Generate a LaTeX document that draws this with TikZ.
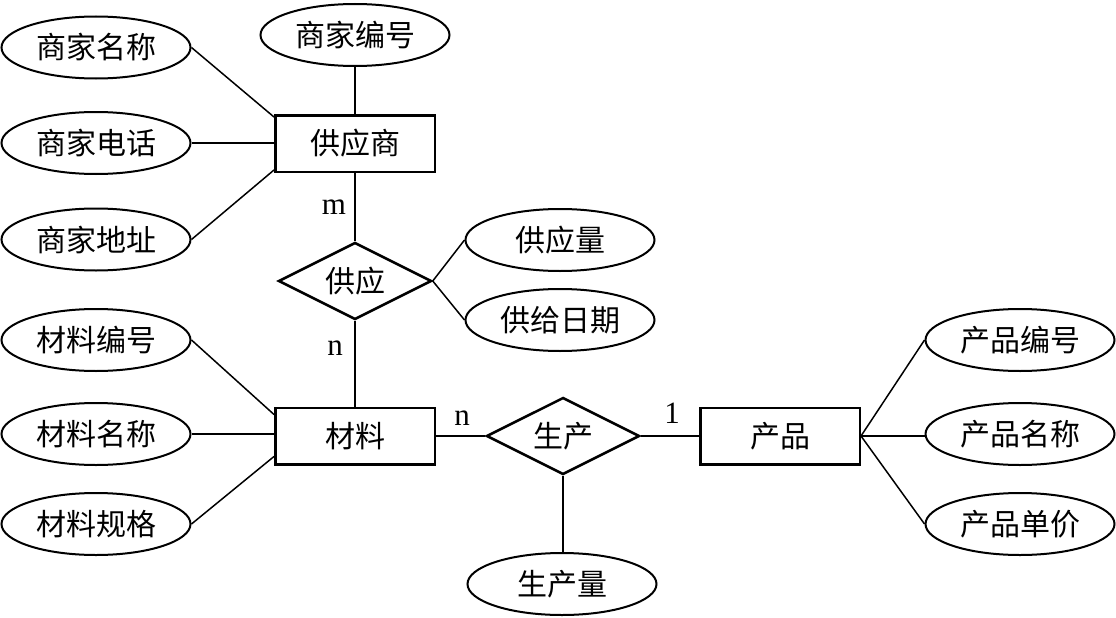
\documentclass[tikz,border=0pt]{standalone}
\usepackage{fontspec}
\setmainfont{Liberation Serif}
\newfontfamily\cjk{Noto Sans CJK SC}
\usetikzlibrary{shapes.geometric}
\begin{document}
\begin{tikzpicture}[x=1pt,y=-1pt,
  attr/.style={ellipse, draw, line width=2pt, minimum width=189pt, minimum height=62pt, inner sep=0pt, font=\cjk\fontsize{30}{30}\selectfont},
  ent/.style={rectangle, draw, line width=2.5pt, minimum width=159.5pt, minimum height=56.5pt, inner sep=0pt, font=\cjk\fontsize{30}{30}\selectfont},
  rel/.style={diamond, aspect=2, draw, line width=2.5pt, minimum width=153pt, minimum height=77pt, inner sep=0pt, font=\cjk\fontsize{30}{30}\selectfont},
  lnk/.style={line width=1.5pt},
  card/.style={inner sep=0pt, font=\fontsize{31}{31}\selectfont}]
\useasboundingbox (0,0) rectangle (1116,618);
% entities
\node[ent] (sup) at (355,143.5) {供应商};
\node[ent] (mat) at (355,436) {材料};
\node[ent] (prod) at (780,436) {产品};
% relationships
\node[rel] (gy) at (355,281) {供应};
\node[rel] (sc) at (563,436) {生产};
% attributes
\node[attr] (s1) at (96,47.5) {商家名称};
\node[attr] (s0) at (355,35) {商家编号};
\node[attr] (s2) at (96,143) {商家电话};
\node[attr] (s3) at (96,239.5) {商家地址};
\node[attr] (m1) at (96,340) {材料编号};
\node[attr] (m2) at (96,434) {材料名称};
\node[attr] (m3) at (96,524) {材料规格};
\node[attr] (g1) at (560,240) {供应量};
\node[attr] (g2) at (560,320) {供给日期};
\node[attr] (c1) at (562,584) {生产量};
\node[attr] (p1) at (1020,340) {产品编号};
\node[attr] (p2) at (1020,434) {产品名称};
\node[attr] (p3) at (1020,524) {产品单价};
% connectors
\draw[lnk] (s0.south) -- (sup.north);
\draw[lnk] (s1.east) -- ([yshift=-3pt]sup.north west);
\draw[lnk] (s2.east) -- (s2.east -| sup.west);
\draw[lnk] (s3.east) -- ([yshift=3pt]sup.south west);
\draw[lnk] (sup.south) -- (gy.north);
\draw[lnk] (gy.south) -- (mat.north);
\draw[lnk] (gy.east) -- (g1.west);
\draw[lnk] (gy.east) -- (g2.west);
\draw[lnk] (m1.east) -- ([yshift=-8pt]mat.north west);
\draw[lnk] (m2.east) -- (m2.east -| mat.west);
\draw[lnk] (m3.east) -- ([yshift=9pt]mat.south west);
\draw[lnk] (mat.east) -- (sc.west);
\draw[lnk] (sc.east) -- (prod.west);
\draw[lnk] (sc.south) -- (sc.south |- c1.north);
\draw[lnk] (prod.east) -- (p1.west);
\draw[lnk] (prod.east) -- (prod.east -| p2.west);
\draw[lnk] (prod.east) -- (p3.west);
% cardinalities
\node[card] (lm) at (334,207) {m};
\node[card] (ln1) at (335,348) {n};
\node[card] (ln2) at (462,418) {n};
\node[card] (l1) at (672,413) {1};
\end{tikzpicture}
\end{document}
